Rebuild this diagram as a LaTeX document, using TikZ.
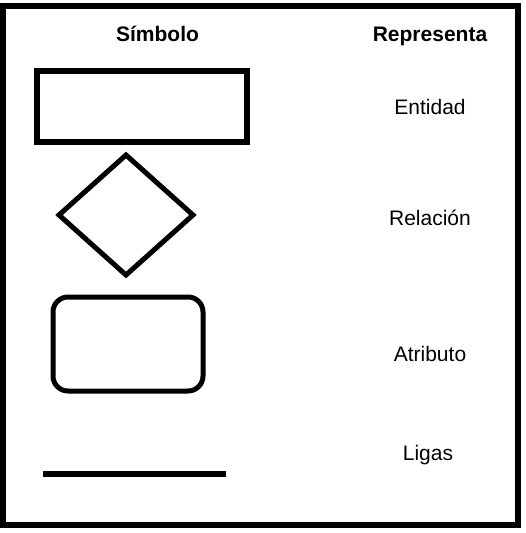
\documentclass[tikz,border=0pt]{standalone}
\usepackage{fontspec}
\setmainfont{Liberation Sans}
\begin{document}
\begin{tikzpicture}[x=1pt,y=-1pt,
  frame/.style={draw=black,line width=6pt},
  shapeline/.style={draw=black,line width=5pt},
  head/.style={font=\fontsize{21}{25}\selectfont\bfseries,anchor=base,inner sep=0pt},
  label/.style={font=\fontsize{21}{25}\selectfont,anchor=base,inner sep=0pt}]
\useasboundingbox (0,0) rectangle (525,533);
\draw[frame] (3,6) rectangle (518,525);
\node[head] (hsym) at (157.5,41) {Símbolo};
\node[head] (hrep) at (430,41) {Representa};
% Entidad
\draw[line width=6pt] (37,71) rectangle (247,142);
\node[label] (lent) at (430,114) {Entidad};
% Relacion
\draw[shapeline,line join=miter] (126,155) -- (193,215) -- (126,275) -- (59,215) -- cycle;
\node[label] (lrel) at (430,225) {Relación};
% Atributo
\draw[shapeline,rounded corners=15pt] (53,297) rectangle (203,391);
\node[label] (latr) at (430,361) {Atributo};
% Ligas
\coordinate (l1) at (43,474);
\coordinate (l2) at (226,474);
\draw[line width=6pt] (l1) -- (l2);
\node[label] (llig) at (428,460) {Ligas};
\end{tikzpicture}
\end{document}
